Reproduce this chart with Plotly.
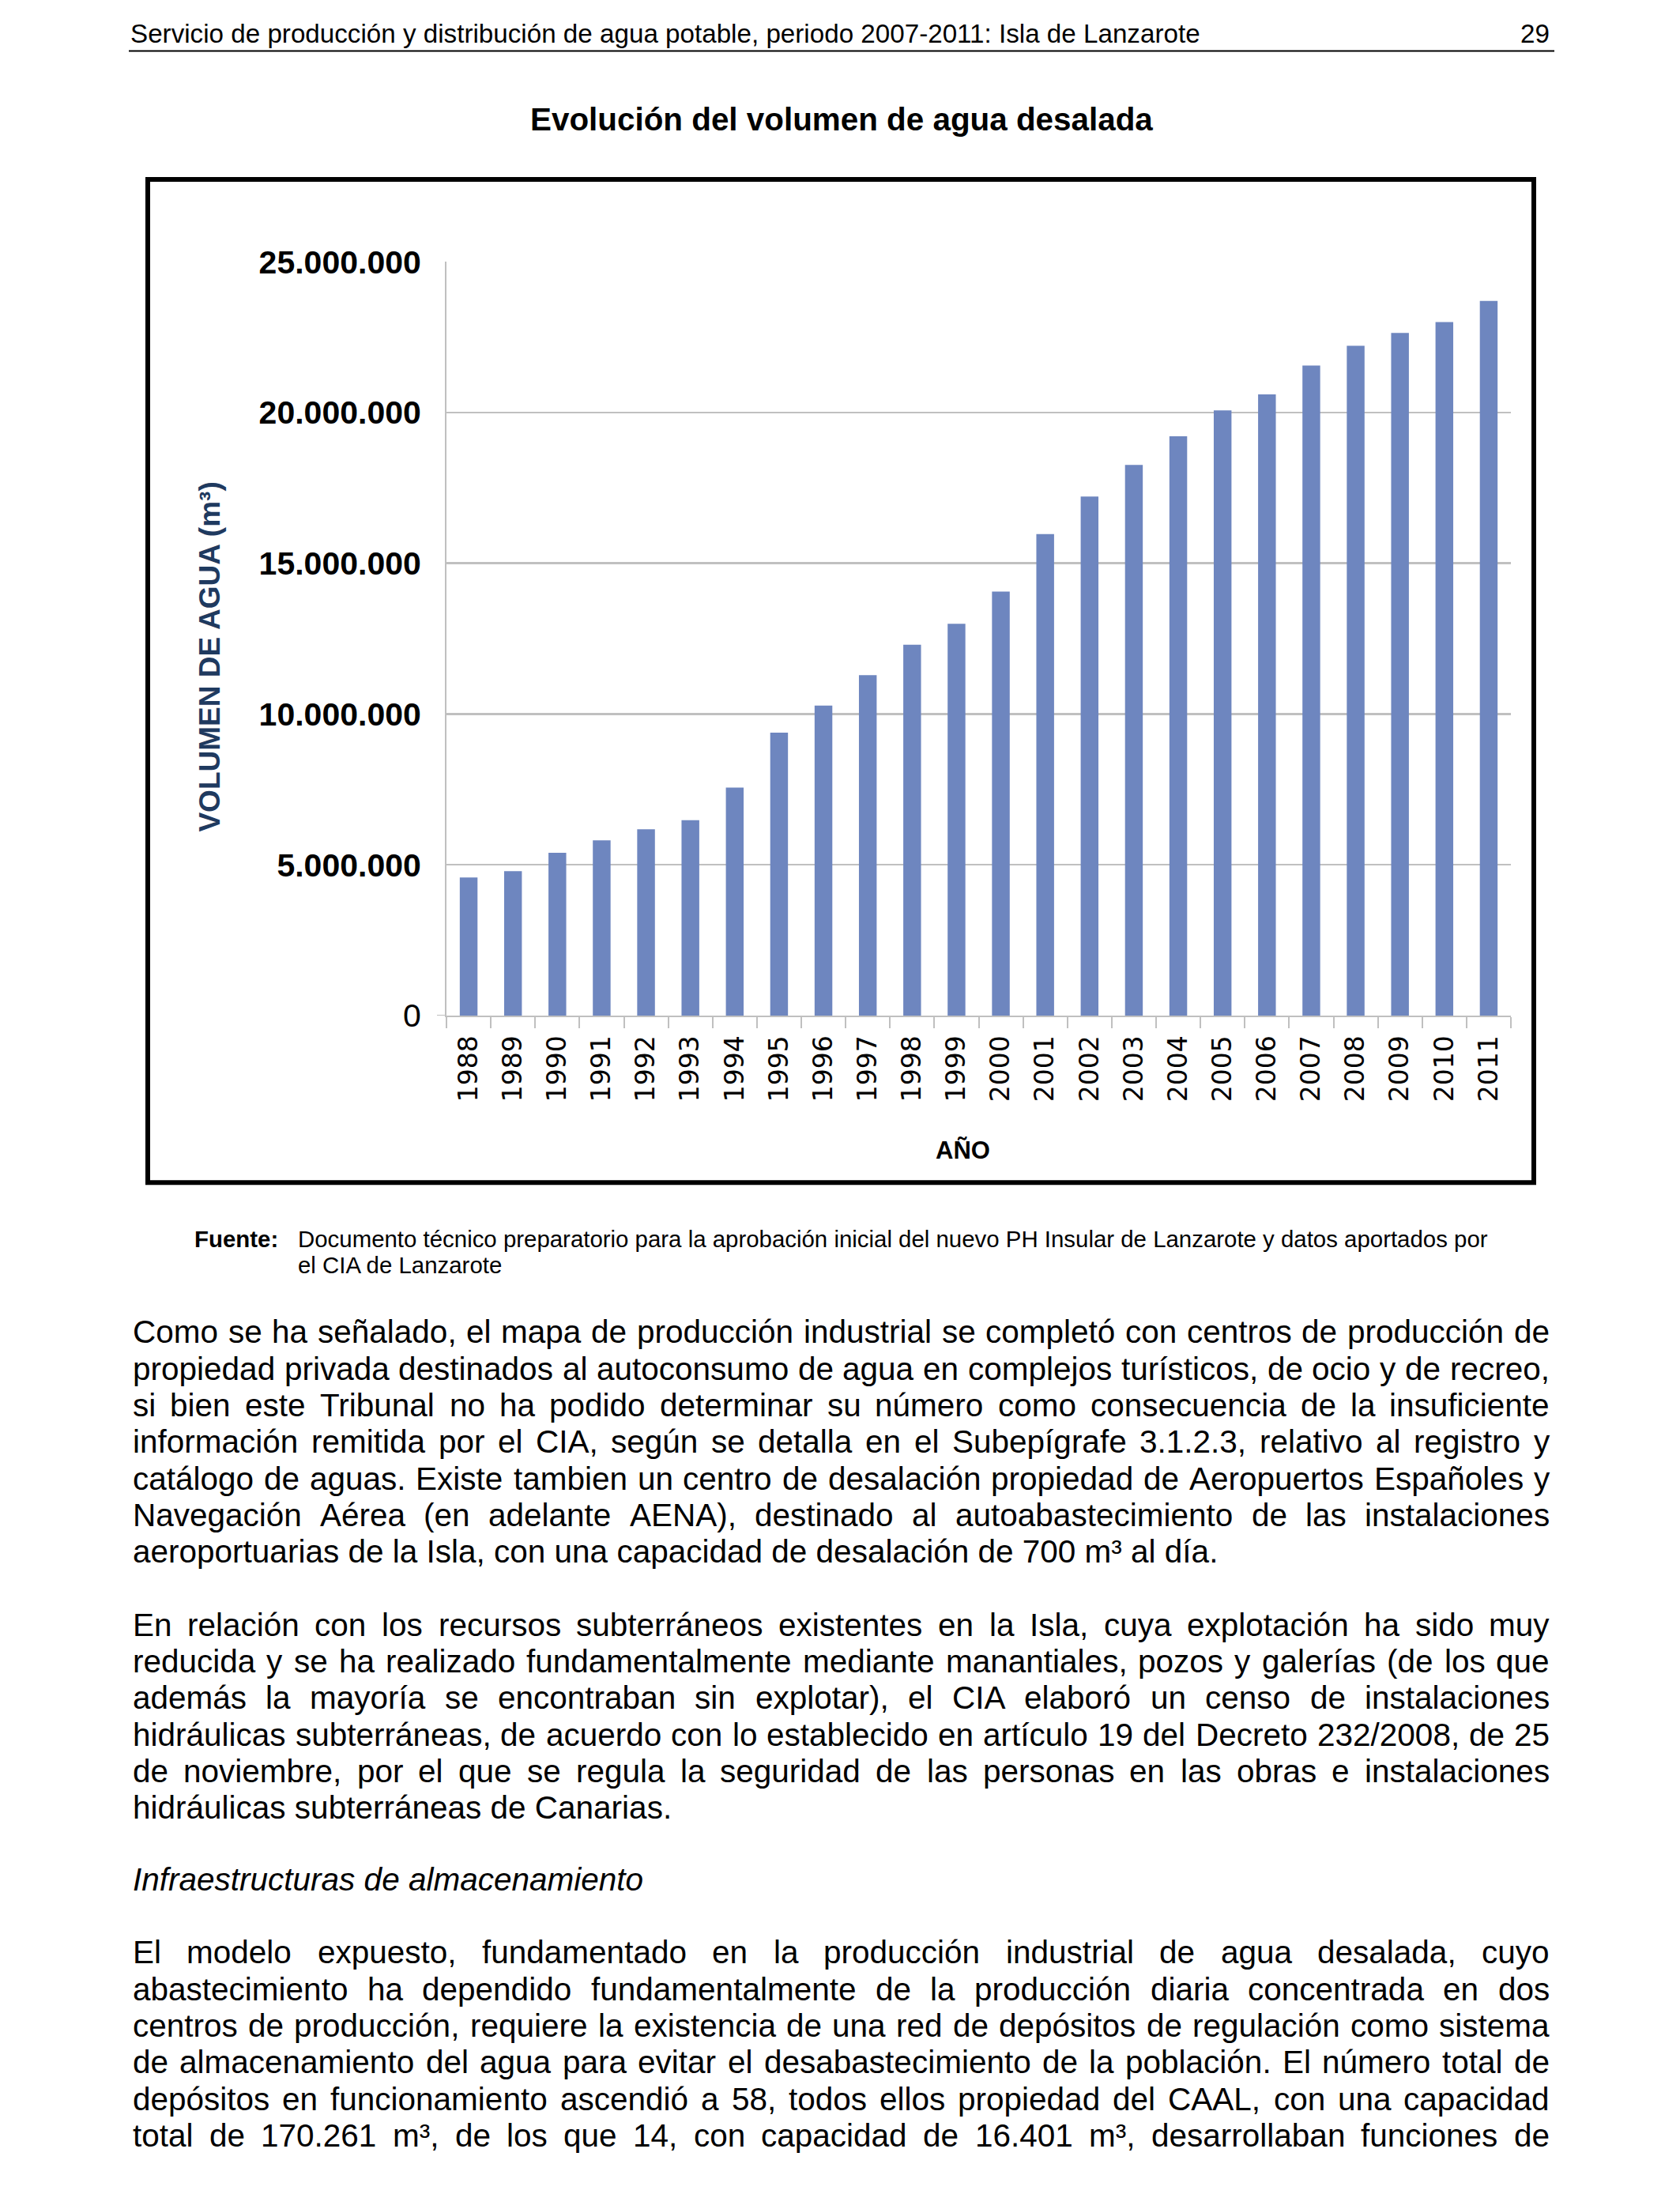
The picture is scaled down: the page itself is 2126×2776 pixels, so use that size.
import plotly.graph_objects as go

W, H = 2126, 2776

# ---------------- data ----------------
years = ["1988", "1989", "1990", "1991", "1992", "1993", "1994", "1995", "1996", "1997", "1998", "1999",
         "2000", "2001", "2002", "2003", "2004", "2005", "2006", "2007", "2008", "2009", "2010", "2011"]
volumes = [4580000, 4790000, 5400000, 5810000, 6180000, 6480000, 7560000, 9380000, 10280000, 11290000,
           12300000, 12990000, 14060000, 15970000, 17210000, 18260000, 19210000, 20070000, 20600000,
           21560000, 22210000, 22640000, 23000000, 23700000]
y_tick_values = [0, 5000000, 10000000, 15000000, 20000000, 25000000]
y_tick_labels = ["0", "5.000.000", "10.000.000", "15.000.000", "20.000.000", "25.000.000"]

header_text = "Servicio de producción y distribución de agua potable, periodo 2007-2011: Isla de Lanzarote"
page_number = "29"
chart_title = "Evolución del volumen de agua desalada"
y_axis_title = "VOLUMEN DE AGUA (m³)"
x_axis_title = "AÑO"
source_label = "Fuente:"
source_lines = [
    "Documento técnico preparatorio para la aprobación inicial del nuevo PH Insular de Lanzarote y datos aportados por",
    "el CIA de Lanzarote",
]
paragraph_1 = [
    "Como se ha señalado, el mapa de producción industrial se completó con centros de producción de",
    "propiedad privada destinados al autoconsumo de agua en complejos turísticos, de ocio y de recreo,",
    "si bien este Tribunal no ha podido determinar su número como consecuencia de la insuficiente",
    "información remitida por el CIA, según se detalla en el Subepígrafe 3.1.2.3, relativo al registro y",
    "catálogo de aguas. Existe tambien un centro de desalación propiedad de Aeropuertos Españoles y",
    "Navegación Aérea (en adelante AENA), destinado al autoabastecimiento de las instalaciones",
    "aeroportuarias de la Isla, con una capacidad de desalación de 700 m³ al día.",
]
paragraph_2 = [
    "En relación con los recursos subterráneos existentes en la Isla, cuya explotación ha sido muy",
    "reducida y se ha realizado fundamentalmente mediante manantiales, pozos y galerías (de los que",
    "además la mayoría se encontraban sin explotar), el CIA elaboró un censo de instalaciones",
    "hidráulicas subterráneas, de acuerdo con lo establecido en artículo 19 del Decreto 232/2008, de 25",
    "de noviembre, por el que se regula la seguridad de las personas en las obras e instalaciones",
    "hidráulicas subterráneas de Canarias.",
]
subheading = "Infraestructuras de almacenamiento"
paragraph_3 = [
    "El modelo expuesto, fundamentado en la producción industrial de agua desalada, cuyo",
    "abastecimiento ha dependido fundamentalmente de la producción diaria concentrada en dos",
    "centros de producción, requiere la existencia de una red de depósitos de regulación como sistema",
    "de almacenamiento del agua para evitar el desabastecimiento de la población. El número total de",
    "depósitos en funcionamiento ascendió a 58, todos ellos propiedad del CAAL, con una capacidad",
    "total de 170.261 m³, de los que 14, con capacidad de 16.401 m³, desarrollaban funciones de",
]

# ---------------- helpers ----------------
ARIAL = {' ': 278, '(': 333, ')': 333, ',': 278, '-': 333, '.': 278, '/': 278, ':': 278, ';': 278, '³': 333,
         'A': 667, 'B': 667, 'C': 722, 'D': 722, 'E': 667, 'F': 611, 'G': 778, 'H': 722, 'I': 278, 'J': 500,
         'K': 667, 'L': 556, 'M': 833, 'N': 722, 'O': 778, 'P': 667, 'Q': 778, 'R': 722, 'S': 667, 'T': 611,
         'U': 722, 'V': 667, 'W': 944, 'X': 667, 'Y': 667, 'Z': 611,
         'a': 556, 'b': 556, 'c': 500, 'd': 556, 'e': 556, 'f': 278, 'g': 556, 'h': 556, 'i': 222, 'j': 222,
         'k': 500, 'l': 222, 'm': 833, 'n': 556, 'o': 556, 'p': 556, 'q': 556, 'r': 333, 's': 500, 't': 278,
         'u': 556, 'v': 500, 'w': 722, 'x': 500, 'y': 500, 'z': 500,
         'á': 556, 'é': 556, 'í': 278, 'ó': 556, 'ú': 556, 'ñ': 556, 'Ñ': 722, 'É': 667, 'Á': 667}
for d in "0123456789":
    ARIAL[d] = 556


def em(s):
    return sum(ARIAL.get(c, 556) for c in s) / 1000.0


# observed vertical mapping of the page in the viewer (offset / scale compensation)
Y_OFF, Y_SCALE = 24.1, 0.9826


def px(x):
    return x / W


def py(y):
    return 1 - (y - Y_OFF) / (Y_SCALE * H)


FONT = "Liberation Sans, Arial, sans-serif"
BODY_SIZE = 40.5
TEXT_L, TEXT_R = 168, 1961
LINE_STEP = 46.3

annotations = []


def add_text(text, x, y, size, xanchor="left", bold=False, italic=False, color="black", family=FONT, angle=0):
    t = text
    if bold:
        t = "<b>" + t + "</b>"
    if italic:
        t = "<i>" + t + "</i>"
    annotations.append(dict(text=t, x=px(x), y=py(y), xref="paper", yref="paper", xanchor=xanchor,
                            yanchor="middle", showarrow=False, borderpad=0, borderwidth=0, textangle=angle,
                            font=dict(family=family, size=size, color=color)))


def add_justified(line, y, size):
    words = line.split(" ")
    widths = [em(w) * size for w in words]
    gap = (TEXT_R - TEXT_L - sum(widths)) / (len(words) - 1)
    x = TEXT_L
    for w, wd in zip(words, widths):
        add_text(w, x, y, size)
        x += wd + gap


def add_paragraph(lines, y0, justify_last=False):
    for i, line in enumerate(lines):
        y = y0 + i * LINE_STEP
        if i < len(lines) - 1 or justify_last:
            add_justified(line, y, BODY_SIZE)
        else:
            add_text(line, TEXT_L, y, BODY_SIZE)


# ---------------- chart ----------------
PLOT_L, PLOT_R, PLOT_T, PLOT_B = 565, 1912, 332, 1285
GRID = "#C0C0C0"

fig = go.Figure(go.Bar(x=years, y=volumes, marker=dict(color="#6E86BF", line=dict(width=0)),
                       hoverinfo="skip"))

fig.update_layout(
    width=W, height=H, margin=dict(l=0, r=0, t=0, b=0, pad=0), autosize=False,
    paper_bgcolor="white", plot_bgcolor="white", showlegend=False, bargap=0.6,
    xaxis=dict(domain=[px(PLOT_L), px(PLOT_R)], type="category", showline=True, linecolor=GRID, linewidth=2,
               ticks="outside", tickson="boundaries", ticklen=14, tickwidth=2, tickcolor=GRID,
               tickangle=-90, tickfont=dict(family="DejaVu Sans", size=33, color="black"),
               showgrid=False, ticklabelstandoff=10, fixedrange=True),
    yaxis=dict(domain=[py(PLOT_B), py(PLOT_T)], range=[0, 25000000], tickmode="array",
               tickvals=y_tick_values,
               ticktext=[y_tick_labels[0]] + ["<b>" + t + "</b>" for t in y_tick_labels[1:]],
               showgrid=True, gridcolor=GRID, gridwidth=2.5, showline=True, linecolor=GRID, linewidth=2,
               zeroline=False, ticks="", tickfont=dict(family=FONT, size=41, color="black"),
               ticklabelstandoff=22, fixedrange=True),
)

shapes = [
    # header rule
    dict(type="line", xref="paper", yref="paper", x0=px(163), x1=px(1967), y0=py(65.5), y1=py(65.5),
         line=dict(color="black", width=2)),
    # chart frame
    dict(type="rect", xref="paper", yref="paper", x0=px(187), x1=px(1941), y0=py(228), y1=py(1496),
         line=dict(color="black", width=6), fillcolor="rgba(0,0,0,0)", layer="above"),
    # small tick at zero on value axis
    dict(type="line", xref="paper", yref="y", x0=px(553), x1=px(PLOT_L), y0=0, y1=0,
         line=dict(color=GRID, width=2)),
]

# page header and title
add_text(header_text, 165, 44, 33.2)
add_text(page_number, 1961, 44, 33.2, xanchor="right")
add_text(chart_title, 1065, 152, 40.4, xanchor="center", bold=True)

# axis titles
add_text(y_axis_title, 266, 832, 37, xanchor="center", bold=True, color="#1F3A5F", angle=-90)
add_text(x_axis_title, 1218, 1455, 31, xanchor="center", bold=True)

# source note
src_size = 1506 / em(source_lines[0])
add_text(source_label, 246, 1567, src_size, bold=True)
add_text(source_lines[0], 377, 1567, src_size)
add_text(source_lines[1], 377, 1600, src_size)

# body text
add_paragraph(paragraph_1, 1685)
add_paragraph(paragraph_2, 2055)
add_text(subheading, TEXT_L, 2377, BODY_SIZE, italic=True)
add_paragraph(paragraph_3, 2469.5, justify_last=True)

fig.update_layout(shapes=shapes, annotations=annotations)

fig.write_html("out.html", config={"displayModeBar": False, "staticPlot": True},
               post_script="document.body.style.margin='0';document.body.style.overflow='hidden';")
